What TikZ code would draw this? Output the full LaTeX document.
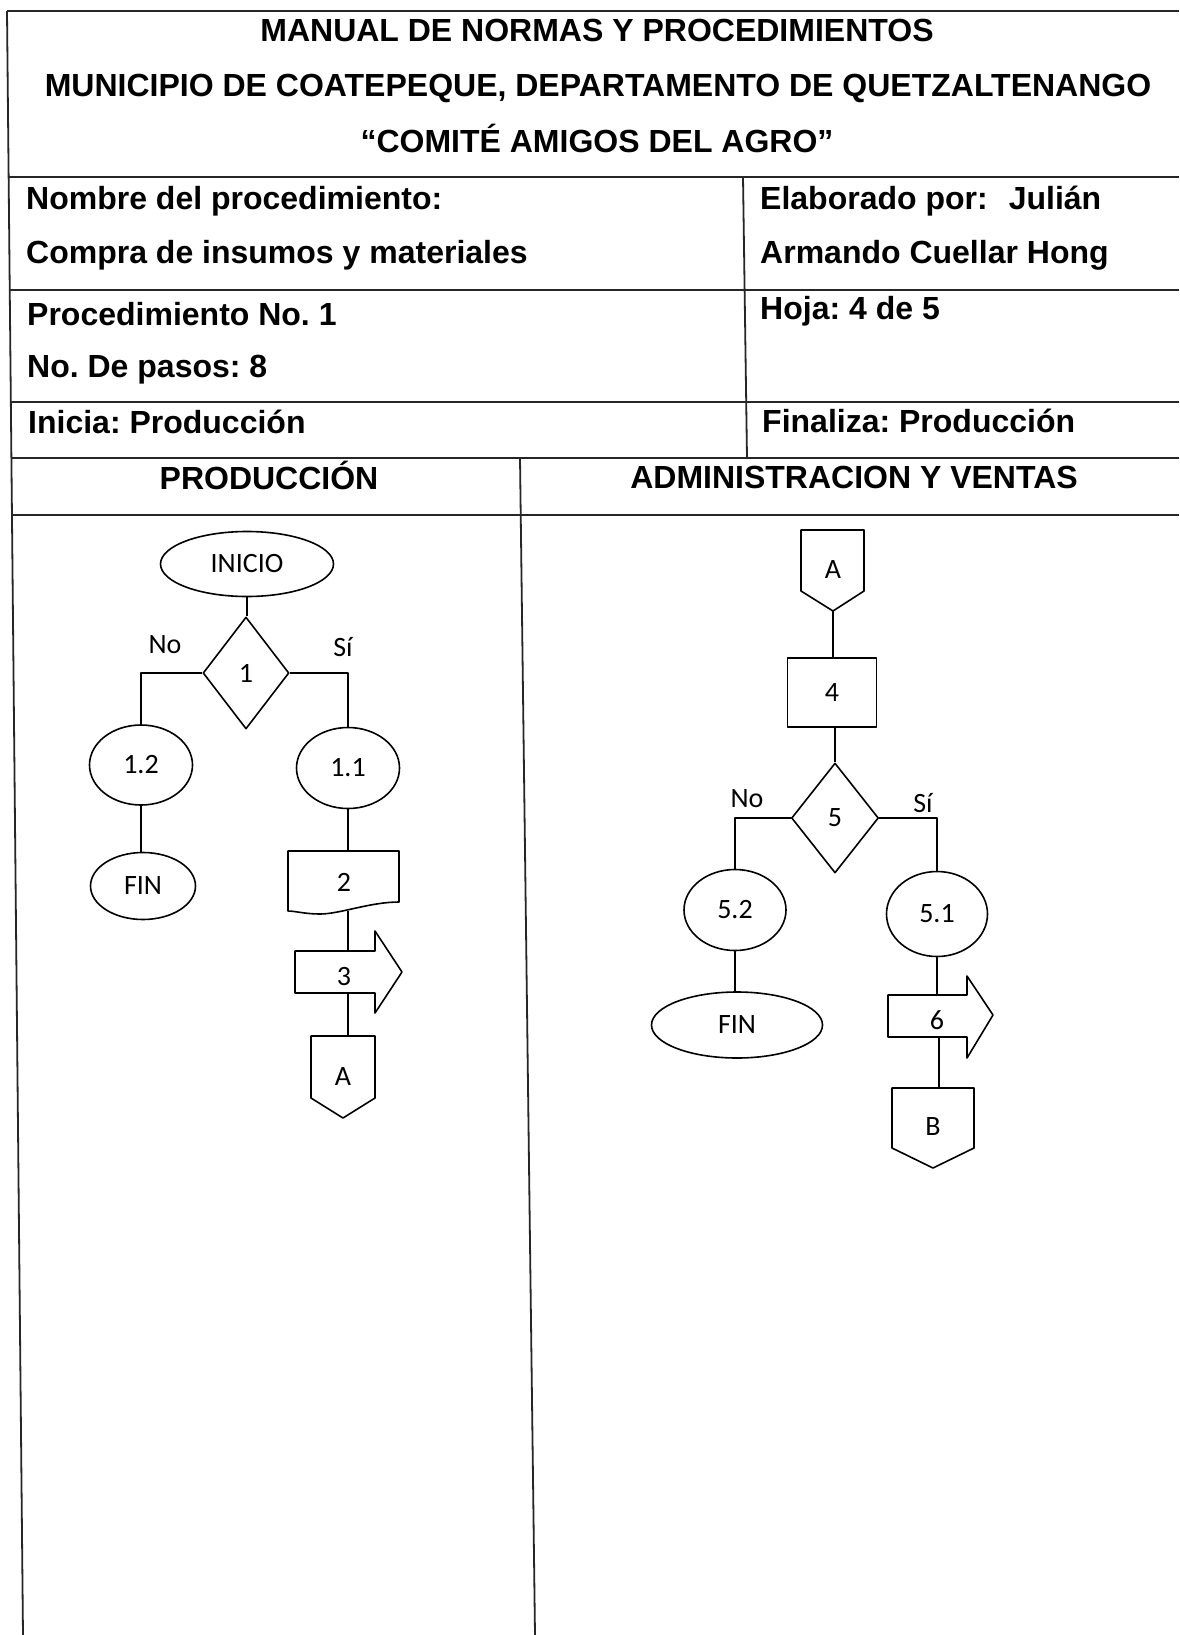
\documentclass[tikz,border=0pt]{standalone}
\usepackage{fontspec}
\setmainfont{Liberation Sans}
\newfontfamily\chartfont{Carlito}
\usetikzlibrary{shapes.geometric}
\frenchspacing
\begin{document}
\begin{tikzpicture}[x=1pt,y=-1pt,line join=round]
\tikzset{
  tableline/.style={line width=1.8pt,black!85},
  hdr/.style={font=\fontsize{32}{38}\selectfont\bfseries,inner sep=0,anchor=base},
  cell/.style={font=\fontsize{32}{38}\selectfont\bfseries,inner sep=0,anchor=base west},
  fc/.style={line width=1.6pt},
  lbl/.style={font=\chartfont\fontsize{28}{32}\selectfont,inner sep=0},
  oval/.style={ellipse,draw,fc,inner sep=0,font=\chartfont\fontsize{28}{32}\selectfont},
  dec/.style={diamond,draw,fc,inner sep=0,font=\chartfont\fontsize{28}{32}\selectfont},
  stepbox/.style={rectangle,draw,fc,inner sep=0,font=\chartfont\fontsize{28}{32}\selectfont}
}
\fill[white] (0,0) rectangle (1179,1635);
\useasboundingbox (0,0) rectangle (1179,1635);

% table
\draw[tableline] (7,11) -- (23,1635);
\foreach \yy in {11,177,290,402,458,515}{
  \draw[tableline] ({7+16*(\yy-11)/1624},\yy) -- (1179,\yy);
}
\draw[tableline] (743,177) -- (747,458);
\draw[tableline] (520,458) -- (535,1635);

% texts
\node[hdr] (t1) at (597,42) {MANUAL DE NORMAS Y PROCEDIMIENTOS};
\node[hdr] (t2) at (598,97) {MUNICIPIO DE COATEPEQUE, DEPARTAMENTO DE QUETZALTENANGO};
\node[hdr] (t3) at (597,152) {“COMITÉ AMIGOS DEL AGRO”};
\node[cell] (c1) at (26,209) {Nombre del procedimiento:};
\node[cell] (c2) at (26,263) {Compra de insumos y materiales};
\node[cell] (c3) at (760,209) {Elaborado por:\hspace{21pt}Julián};
\node[cell] (c4) at (760,263) {Armando Cuellar Hong};
\node[cell] (c5) at (27,325) {Procedimiento No. 1};
\node[cell] (c6) at (27,377) {No. De pasos: 8};
\node[cell] (c7) at (760,319) {Hoja: 4 de 5};
\node[cell] (c8) at (28,433) {Inicia: Producción};
\node[cell] (c9) at (762,432) {Finaliza: Producción};
\node[hdr] (h1) at (269,489) {PRODUCCIÓN};
\node[hdr] (h2) at (854,488) {ADMINISTRACION Y VENTAS};

% left flowchart
\node[oval,minimum width=173,minimum height=65] (inicio) at (247,564) {INICIO};
\node[dec,minimum width=86,minimum height=112] (d1) at (246,673) {1};
\draw[fc] (inicio.south) -- (inicio.south |- d1.north);
\node[lbl,anchor=base] (no1) at (165,653) {No};
\node[lbl,anchor=base] (si1) at (343,656) {Sí};
\node[oval,minimum width=103,minimum height=80] (e12) at (141,765) {1.2};
\node[oval,minimum width=103,minimum height=81] (e11) at (348,768) {1.1};
\draw[fc] (d1.west) -| (e12.north);
\draw[fc] (d1.east) -| (e11.north);
\node[oval,minimum width=105,minimum height=67] (fin1) at (143,886) {FIN};
\draw[fc] (e12.south) -- (e12.south |- fin1.north);

\draw[fc] (288,851) -- (399,851) -- (399,902) .. controls (370,902) and (340,914) .. (320,914) .. controls (305,914) and (295,911) .. (288,911) -- cycle;
\node[lbl] (n2) at (344,882) {2};
\coordinate (n2top) at (348,851);
\coordinate (n2bot) at (348,911);
\draw[fc] (e11.south) -- (n2top);

\draw[fc] (295,951) -- (375,951) -- (375,931) -- (402,972) -- (375,1013) -- (375,993) -- (295,993) -- cycle;
\node[lbl] (n3) at (344,976) {3};
\coordinate (a3top) at (348,951);
\coordinate (a3bot) at (348,993);
\draw[fc] (n2bot) -- (a3top);

\draw[fc] (311,1036) -- (375,1036) -- (375,1098) -- (343,1118) -- (311,1098) -- cycle;
\node[lbl] (ca1) at (343,1077) {A};
\coordinate (ca1top) at (348,1036);
\draw[fc] (a3bot) -- (ca1top);

% right flowchart
\draw[fc] (801,530) -- (864,530) -- (864,591) -- (833,611) -- (801,591) -- cycle;
\node[lbl] (ca2) at (833,570) {A};
\coordinate (ca2bot) at (833,611);
\node[stepbox,minimum width=89,minimum height=69] (r4) at (832,692.5) {4};
\draw[fc] (ca2bot) -- (ca2bot |- r4.north);
\node[dec,minimum width=87,minimum height=110] (d5) at (835,818) {5};
\draw[fc] (r4.south -| d5.north) -- (d5.north);
\node[lbl,anchor=base] (no5) at (747,807) {No};
\node[lbl,anchor=base] (si5) at (923,812) {Sí};
\node[oval,minimum width=102,minimum height=81] (e52) at (735,910) {5.2};
\node[oval,minimum width=101,minimum height=85] (e51) at (937,914) {5.1};
\draw[fc] (d5.west) -| (e52.north);
\draw[fc] (d5.east) -| (e51.north);
\node[oval,minimum width=171,minimum height=66] (fin2) at (737,1025) {FIN};
\draw[fc] (e52.south) -- (e52.south |- fin2.north);

\draw[fc] (888,995) -- (967,995) -- (967,976) -- (993,1015) -- (967,1058) -- (967,1037) -- (888,1037) -- cycle;
\node[lbl] (n6) at (937,1020) {6};
\coordinate (a6top) at (937,995);
\coordinate (a6bot) at (939,1037);
\draw[fc] (e51.south) -- (a6top);

\draw[fc] (892,1088) -- (974,1088) -- (974,1148) -- (933,1168) -- (892,1148) -- cycle;
\node[lbl] (cb) at (933,1127) {B};
\coordinate (cbtop) at (939,1088);
\draw[fc] (a6bot) -- (cbtop);
\end{tikzpicture}
\end{document}
